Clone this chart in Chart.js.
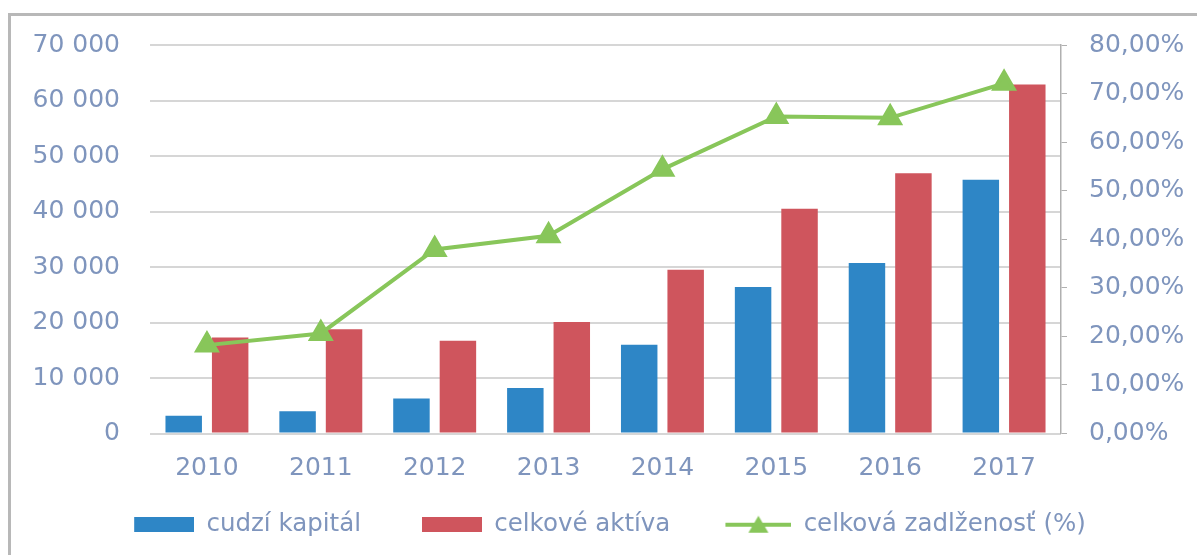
<!DOCTYPE html>
<html>
<head>
<meta charset="utf-8">
<script src="https://cdn.jsdelivr.net/npm/chart.js@4.4.1/dist/chart.umd.min.js"></script>
<style>
html,body{margin:0;padding:0;background:#fff;}
#wrap{position:relative;width:1197px;height:558px;}
#frame{position:absolute;left:8px;top:13px;width:1189px;height:542px;border-left:3px solid #b8b8b8;border-top:3px solid #b8b8b8;box-sizing:border-box;pointer-events:none;}
canvas{position:absolute;left:0;top:0;}
</style>
</head>
<body>
<div id="wrap"><canvas id="c" width="1197" height="558"></canvas><div id="frame"></div></div>
<script>
const categories = ['2010','2011','2012','2013','2014','2015','2016','2017'];
const cudziKapital = [3200, 4000, 6300, 8200, 16000, 26400, 30700, 45700];
const celkoveAktiva = [17300, 18800, 16700, 20100, 29500, 40500, 46900, 62900];
const zadlzenost = [18.2, 20.6, 37.9, 40.7, 54.4, 65.3, 65.0, 72.1];
const seriesNames = ['cudzí kapitál', 'celkové aktíva', 'celková zadlženosť (%)'];

const BLUE = '#2E86C6';
const RED = '#CF555D';
const GREEN = '#88C65A';
const TXT = '#7F95BD';
const FONT = "'DejaVu Sans', sans-serif";

const LEG_W = 111;
function boxImg(color){
  const c = document.createElement('canvas');
  c.width = LEG_W; c.height = 15;
  const x = c.getContext('2d');
  x.fillStyle = color; x.fillRect(LEG_W - 60, 0, 60, 15);
  return c;
}
function lineImg(color){
  const c = document.createElement('canvas');
  c.width = LEG_W; c.height = 24;
  const x = c.getContext('2d');
  const x0 = LEG_W - 66;
  x.strokeStyle = color; x.lineWidth = 4;
  x.beginPath(); x.moveTo(x0, 12); x.lineTo(LEG_W, 12); x.stroke();
  x.fillStyle = color;
  x.beginPath(); x.moveTo(x0 + 33, 3); x.lineTo(x0 + 43, 20); x.lineTo(x0 + 23, 20); x.closePath(); x.fill();
  return c;
}
const legendImgs = { 1: boxImg(BLUE), 2: boxImg(RED), 0: lineImg(GREEN) };

function fmtThousands(v){
  return String(Math.round(v)).replace(/\B(?=(\d{3})+(?!\d))/g, ' ');
}

const shiftLegend = {
  id: 'shiftLegend',
  afterLayout(chart) {
    const lg = chart.legend;
    if (lg) { lg.left -= 14; lg.right -= 14; }
  }
};

new Chart(document.getElementById('c'), {
  data: {
    labels: categories,
    datasets: [
      { type:'line', label: seriesNames[2], data: zadlzenost, yAxisID:'y1',
        borderColor: GREEN, backgroundColor: GREEN, borderWidth: 4,
        pointStyle:'triangle', pointRadius: 11, pointHoverRadius: 11,
        pointBackgroundColor: GREEN, pointBorderColor: GREEN, tension: 0, order: 0 },
      { type:'bar', label: seriesNames[0], data: cudziKapital, yAxisID:'y',
        backgroundColor: BLUE, categoryPercentage: 0.816, barPercentage: 0.785, order: 1 },
      { type:'bar', label: seriesNames[1], data: celkoveAktiva, yAxisID:'y',
        backgroundColor: RED, categoryPercentage: 0.816, barPercentage: 0.785, order: 1 }
    ]
  },
  plugins: [shiftLegend],
  options: {
    responsive: false,
    animation: false,
    events: [],
    layout: { padding: { top: 43, left: 0, right: 0, bottom: 11 } },
    plugins: {
      tooltip: { enabled: false },
      legend: {
        position: 'bottom',
        labels: {
          usePointStyle: true,
          pointStyleWidth: LEG_W,
          boxHeight: 15,
          padding: 10,
          color: TXT,
          font: { family: FONT, size: 24.5 },
          sort: (a, b) => {
            const ord = [1, 2, 0];
            return ord.indexOf(a.datasetIndex) - ord.indexOf(b.datasetIndex);
          },
          generateLabels: (chart) => {
            const items = Chart.defaults.plugins.legend.labels.generateLabels(chart);
            items.forEach(it => { it.pointStyle = legendImgs[it.datasetIndex]; });
            return items;
          }
        }
      }
    },
    scales: {
      x: {
        grid: { display: false },
        border: { display: false },
        ticks: { color: TXT, font: { family: FONT, size: 25 }, padding: 12 },
        afterFit: (s) => { s.height = 69; }
      },
      y: {
        position: 'left',
        min: 0, max: 70000,
        ticks: { stepSize: 10000, color: TXT, font: { family: FONT, size: 25 }, padding: 30,
                 callback: (v) => fmtThousands(v) },
        grid: { color: '#d6d6d6', lineWidth: 2, drawTicks: false },
        border: { display: false },
        afterFit: (s) => { s.width = 150; }
      },
      y1: {
        position: 'right',
        min: 0, max: 80,
        ticks: { stepSize: 10, color: TXT, font: { family: FONT, size: 25 }, padding: 22,
                 callback: (v) => v.toFixed(2).replace('.', ',') + '%' },
        grid: { drawOnChartArea: false, color: '#b0b0b0', tickLength: 6 },
        border: { display: true, color: '#b0b0b0', width: 1.5 },
        afterFit: (s) => { s.width = 136; }
      }
    }
  }
});
</script>
</body>
</html>
